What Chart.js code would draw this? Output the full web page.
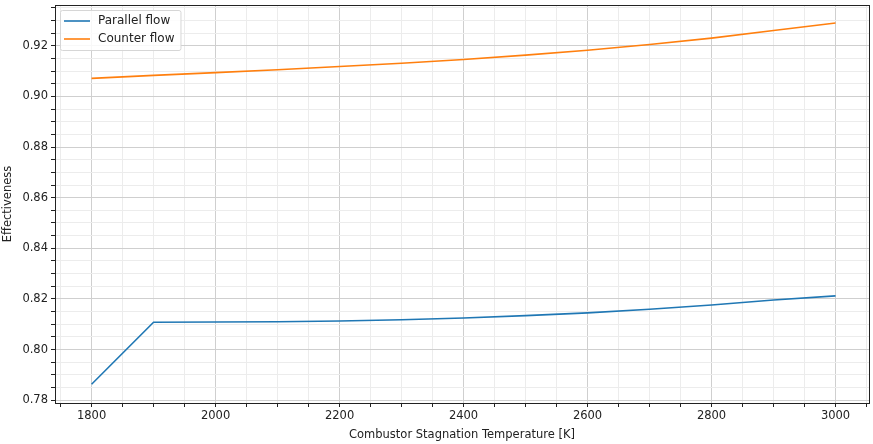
<!DOCTYPE html>
<html>
<head>
<meta charset="utf-8">
<script src="https://cdn.jsdelivr.net/npm/chart.js@4.4.1/dist/chart.umd.min.js"></script>
<style>
  html, body { margin: 0; padding: 0; background: #fff; }
  #wrap { width: 873px; height: 444px; }
</style>
</head>
<body>
<div id="wrap"><canvas id="chart"></canvas></div>
<script>
// temperatures [K]
var temps = [1800, 1900, 2000, 2100, 2200, 2300, 2400, 2500, 2600, 2700, 2800, 2900, 3000];
// effectiveness values
var parallelFlow = [0.7863, 0.8108, 0.8109, 0.8110, 0.8113, 0.8118, 0.8125, 0.8134, 0.8145, 0.8159, 0.8176, 0.8196, 0.8212];
var counterFlow = [0.9071, 0.9083, 0.9094, 0.9105, 0.9118, 0.9131, 0.9146, 0.9163, 0.9182, 0.9205, 0.9230, 0.9260, 0.9290];
var seriesLabels = ['Parallel flow', 'Counter flow'];
var xTickLabels = [1800, 2000, 2200, 2400, 2600, 2800, 3000];
var yTickLabels = [0.78, 0.80, 0.82, 0.84, 0.86, 0.88, 0.90, 0.92];

var FONT = 'DejaVu Sans';
var majorGrid = '#cfcfcf', minorGrid = '#ececec';

function isMajorX(v) { return xTickLabels.indexOf(Math.round(v)) !== -1; }
function isMajorY(v) {
    return yTickLabels.some(t => Math.abs(t - v) < 1e-6);
}

// box around the plot like matplotlib
var framePlugin = {
    id: 'frame',
    afterDatasetsDraw(chart) {
        let a = chart.chartArea, ctx = chart.ctx;
        ctx.save();
        ctx.strokeStyle = '#222';
        ctx.lineWidth = 1;
        ctx.strokeRect(Math.round(a.left) + 0.5, Math.round(a.top) + 0.5,
            Math.round(a.right - a.left), Math.round(a.bottom - a.top));
        ctx.restore();
    }
};

// legend drawn inside the plot, top left
var insideLegend = {
    id: 'insideLegend',
    afterDraw(chart) {
        let a = chart.chartArea, ctx = chart.ctx;
        let x = a.left + 5, y = a.top + 5;
        ctx.save();
        ctx.font = '12px ' + FONT;
        let w = 0;
        chart.data.datasets.forEach(d => { w = Math.max(w, ctx.measureText(d.label).width); });
        let boxW = 38 + w + 6, boxH = 40;
        ctx.fillStyle = 'rgba(255,255,255,0.85)';
        ctx.strokeStyle = '#d6d6d6';
        ctx.lineWidth = 1;
        ctx.beginPath();
        ctx.roundRect(x + 0.5, y + 0.5, boxW, boxH, 2);
        ctx.fill();
        ctx.stroke();
        chart.data.datasets.forEach((d, i) => {
            let ly = y + 11 + i * 18;
            ctx.strokeStyle = d.borderColor;
            ctx.lineWidth = 1.6;
            ctx.beginPath();
            ctx.moveTo(x + 4, ly);
            ctx.lineTo(x + 30, ly);
            ctx.stroke();
            ctx.fillStyle = '#222';
            ctx.textBaseline = 'middle';
            ctx.fillText(d.label, x + 38, ly);
        });
        ctx.restore();
    }
};

function toPoints(ys) {
    return temps.map((t, i) => ({ x: t, y: ys[i] }));
}

var ctx = document.getElementById('chart');
new Chart(ctx, {
    type: 'line',
    data: {
        datasets: [{
            label: seriesLabels[0],
            data: toPoints(parallelFlow),
            borderColor: '#1f77b4',
            borderWidth: 1.6,
            pointRadius: 0,
            tension: 0
        }, {
            label: seriesLabels[1],
            data: toPoints(counterFlow),
            borderColor: '#ff7f0e',
            borderWidth: 1.6,
            pointRadius: 0,
            tension: 0
        }]
    },
    options: {
        responsive: true,
        maintainAspectRatio: false,
        animation: false,
        layout: { padding: { top: 5, right: 4, left: 0, bottom: 0 } },
        plugins: {
            legend: { display: false },
            tooltip: { enabled: false }
        },
        scales: {
            x: {
                type: 'linear',
                min: 1741,
                max: 3054,
                afterBuildTicks(scale) {
                    let t = [];
                    for (let v = 1750; v <= 3050; v += 50) t.push({ value: v });
                    scale.ticks = t;
                },
                afterFit(scale) {
                    scale.height = 41;
                    scale.paddingLeft = 0;
                    scale.paddingRight = 0;
                },
                ticks: {
                    autoSkip: false,
                    maxRotation: 0,
                    padding: 2,
                    color: '#222',
                    font: { family: FONT, size: 11.5 },
                    callback: v => isMajorX(v) ? String(v) : ''
                },
                grid: {
                    color: c => isMajorX(c.tick.value) ? majorGrid : minorGrid,
                    tickColor: '#222',
                    tickLength: 4,
                    drawOnChartArea: true
                },
                border: { color: '#222' },
                title: {
                    display: true,
                    text: 'Combustor Stagnation Temperature [K]',
                    color: '#222',
                    font: { family: FONT, size: 11.5 },
                    padding: { top: 0, bottom: 2 }
                }
            },
            y: {
                type: 'linear',
                min: 0.7789,
                max: 0.9361,
                afterBuildTicks(scale) {
                    let t = [];
                    for (let k = 156; k <= 187; k++) t.push({ value: k * 0.005 });
                    scale.ticks = t;
                },
                afterFit(scale) {
                    scale.width = 55;
                    scale.paddingTop = 0;
                    scale.paddingBottom = 0;
                },
                ticks: {
                    autoSkip: false,
                    padding: 3,
                    color: '#222',
                    font: { family: FONT, size: 11.5 },
                    callback: v => isMajorY(v) ? v.toFixed(2) : ''
                },
                grid: {
                    color: c => isMajorY(c.tick.value) ? majorGrid : minorGrid,
                    tickColor: '#222',
                    tickLength: 4
                },
                border: { color: '#222' },
                title: {
                    display: true,
                    text: 'Effectiveness',
                    color: '#222',
                    font: { family: FONT, size: 11.5 },
                    padding: { top: 1, bottom: 2 }
                }
            }
        }
    },
    plugins: [framePlugin, insideLegend]
});
</script>
</body>
</html>
